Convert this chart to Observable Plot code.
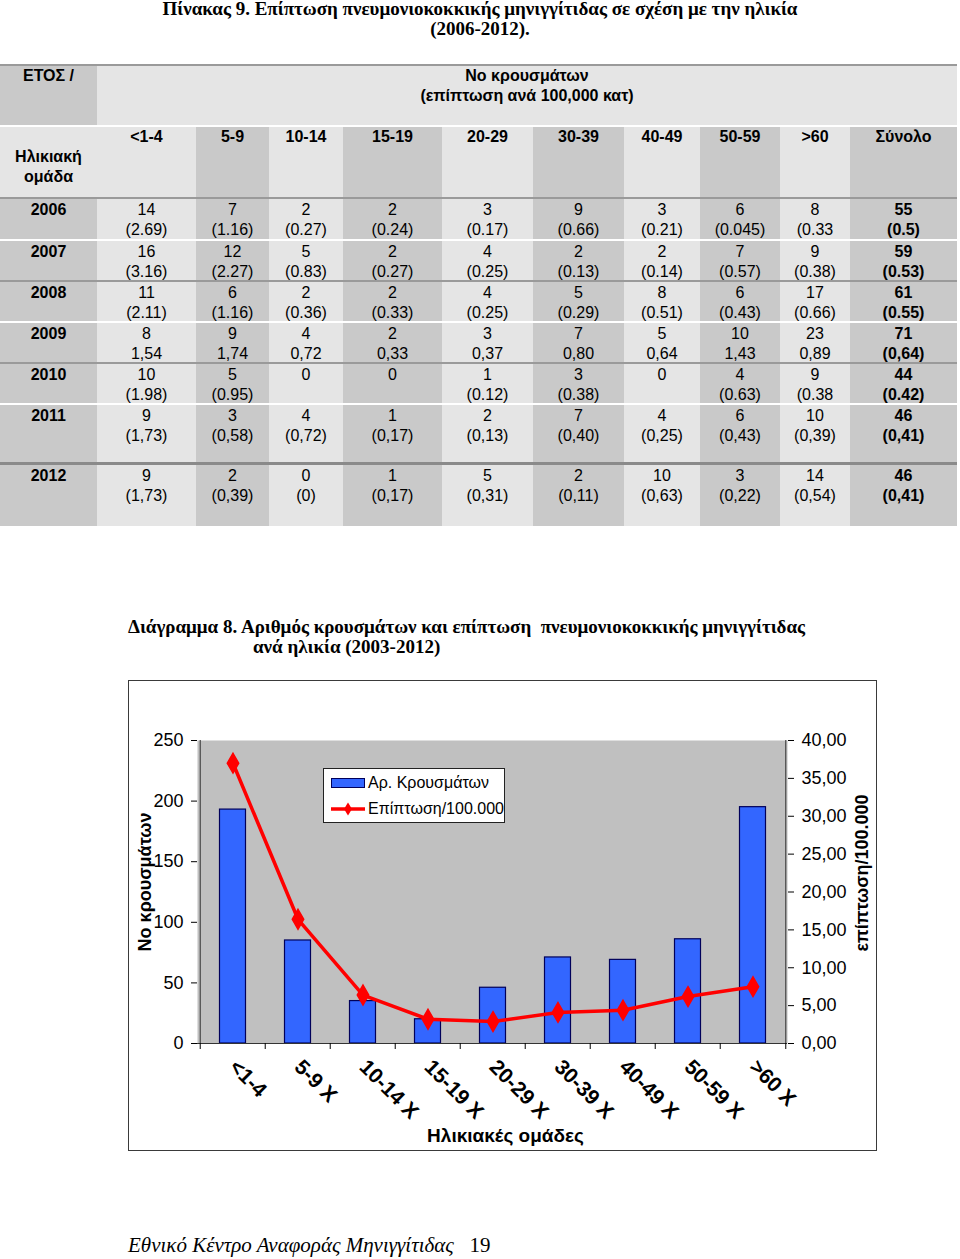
<!DOCTYPE html>
<html><head><meta charset="utf-8">
<script src="https://cdn.jsdelivr.net/npm/d3@7"></script>
<script src="https://cdn.jsdelivr.net/npm/@observablehq/plot@0.6"></script>
<style>
body{margin:0;background:#fff;width:960px;height:1259px;position:relative;overflow:hidden;font-family:Arial,"Liberation Sans",sans-serif;color:#000;}
.serif{font-family:"Times New Roman","Liberation Serif",serif;}
#title{position:absolute;left:0;width:960px;top:-1px;text-align:center;font-weight:bold;font-size:19px;line-height:20px;}
#tbl{position:absolute;left:0;top:64px;width:957px;}
.row{display:flex;width:957px;}
.cell{text-align:center;font-size:16px;line-height:20px;box-sizing:border-box;white-space:nowrap;}
.b{font-weight:bold;}
.cap{position:absolute;font-weight:bold;font-size:19px;line-height:20px;white-space:pre;}
#chart{position:absolute;left:128px;top:680px;width:747px;height:469px;border:1px solid #3a3a3a;}
#legend{position:absolute;left:194px;top:87px;width:182px;height:55px;box-sizing:border-box;border:1px solid #222;background:#fff;font-size:16px;}
.li{position:absolute;left:0;height:20px;line-height:20px;white-space:nowrap;}
.sw1{position:absolute;left:7px;top:5px;width:34px;height:10px;box-sizing:border-box;background:#3366ff;border:1.5px solid #00005a;}
#footer{position:absolute;left:128px;top:1233px;font-size:21px;line-height:24px;white-space:pre;}
</style></head>
<body>
<div id="title" class="serif">Πίνακας 9. Επίπτωση πνευμονιοκοκκικής μηνιγγίτιδας σε σχέση με την ηλικία<br>(2006-2012).</div>
<div id="tbl"></div>
<div class="cap serif" style="left:128px;top:617px;">Διάγραμμα 8. Αριθμός κρουσμάτων και επίπτωση  πνευμονιοκοκκικής μηνιγγίτιδας</div>
<div class="cap serif" style="left:253px;top:637px;">ανά ηλικία (2003-2012)</div>
<div id="chart">
  <div id="legend">
    <div class="li" style="top:4px;"><span class="sw1"></span><span style="position:absolute;left:44px;">Αρ. Κρουσμάτων</span></div>
    <div class="li" style="top:30px;"><svg width="40" height="20" style="position:absolute;left:6px;top:0"><line x1="1" x2="35" y1="10" y2="10" stroke="#ff0000" stroke-width="3.5"/><path d="M18,3.5L22,10L18,16.5L14,10Z" fill="#ff0000"/></svg><span style="position:absolute;left:44px;">Επίπτωση/100.000</span></div>
  </div>
</div>
<div id="footer" class="serif"><i>Εθνικό Κέντρο Αναφοράς Μηνιγγίτιδας</i>   19</div>
<script>
// ---- table data ----
const ageHeaders = ["<1-4","5-9","10-14","15-19","20-29","30-39","40-49","50-59",">60","Σύνολο"];
const years = ["2006","2007","2008","2009","2010","2011","2012"];
const cases2006 = ["14","7","2","2","3","9","3","6","8","55"];
const rates2006 = ["(2.69)","(1.16)","(0.27)","(0.24)","(0.17)","(0.66)","(0.21)","(0.045)","(0.33","(0.5)"];
const cases2007 = ["16","12","5","2","4","2","2","7","9","59"];
const rates2007 = ["(3.16)","(2.27)","(0.83)","(0.27)","(0.25)","(0.13)","(0.14)","(0.57)","(0.38)","(0.53)"];
const cases2008 = ["11","6","2","2","4","5","8","6","17","61"];
const rates2008 = ["(2.11)","(1.16)","(0.36)","(0.33)","(0.25)","(0.29)","(0.51)","(0.43)","(0.66)","(0.55)"];
const cases2009 = ["8","9","4","2","3","7","5","10","23","71"];
const rates2009 = ["1,54","1,74","0,72","0,33","0,37","0,80","0,64","1,43","0,89","(0,64)"];
const cases2010 = ["10","5","0","0","1","3","0","4","9","44"];
const rates2010 = ["(1.98)","(0.95)","","","(0.12)","(0.38)","","(0.63)","(0.38","(0.42)"];
const cases2011 = ["9","3","4","1","2","7","4","6","10","46"];
const rates2011 = ["(1,73)","(0,58)","(0,72)","(0,17)","(0,13)","(0,40)","(0,25)","(0,43)","(0,39)","(0,41)"];
const cases2012 = ["9","2","0","1","5","2","10","3","14","46"];
const rates2012 = ["(1,73)","(0,39)","(0)","(0,17)","(0,31)","(0,11)","(0,63)","(0,22)","(0,54)","(0,41)"];

// ---- chart data ----
const chartAges = ["<1-4","5-9 Χ","10-14 Χ","15-19 Χ","20-29 Χ","30-39 Χ","40-49 Χ","50-59 Χ",">60 Χ"];
const chartCases = [193, 85, 35, 20, 46, 71, 69, 86, 195];
const chartIncidence = [37.0, 16.4, 6.4, 3.2, 2.9, 4.1, 4.4, 6.2, 7.5];

// ---- build table ----
const colW = [97,99,73,74,99,91,91,76,80,70,107];
const LIGHT = "#e5e5e5", DARK = "#c9c9c9";
const tbl = document.getElementById("tbl");
function sep(h, color){ const d=document.createElement("div"); d.className="sep"; d.style.height=h+"px"; d.style.background=color; tbl.appendChild(d); }
function row(h, cells){
  const r=document.createElement("div"); r.className="row"; r.style.height=h+"px";
  cells.forEach(c=>{ const d=document.createElement("div"); d.className="cell"+(c.bold?" b":"");
    d.style.width=c.w+"px"; d.style.background=c.bg; d.style.paddingTop=(c.pt||0)+"px"; d.innerHTML=c.html; r.appendChild(d); });
  tbl.appendChild(r);
}
const esc = s => s.replace(/&/g,"&amp;").replace(/</g,"&lt;").replace(/>/g,"&gt;");
sep(2,"#9a9a9a");
row(59,[{w:colW[0],bg:DARK,bold:true,html:"ΕΤΟΣ /"},{w:d3.sum(colW.slice(1)),bg:LIGHT,bold:true,html:"Νο κρουσμάτων<br>(επίπτωση ανά 100,000 κατ)"}]);
sep(2,"#ffffff");
row(70,[{w:colW[0],bg:LIGHT,bold:true,pt:20,html:"Ηλικιακή<br>ομάδα"}].concat(ageHeaders.map((a,i)=>({w:colW[i+1],bg:i%2?DARK:LIGHT,bold:true,html:esc(a)}))));
sep(2,"#9a9a9a");
const allCases=[cases2006,cases2007,cases2008,cases2009,cases2010,cases2011,cases2012];
const allRates=[rates2006,rates2007,rates2008,rates2009,rates2010,rates2011,rates2012];
const rowH=[40,39,39,39,39,57,61];
const seps=[["#ffffff",2],["#9a9a9a",2],["#ffffff",2],["#9a9a9a",2],["#ffffff",2],["#8a8a8a",3]];
years.forEach((y,j)=>{
  row(rowH[j],[{w:colW[0],bg:DARK,bold:true,pt:1,html:y}].concat(allCases[j].map((c,i)=>({w:colW[i+1],bg:i%2?DARK:LIGHT,bold:i===9,pt:1,html:esc(c)+"<br>"+esc(allRates[j][i])}))));
  if(j<seps.length) sep(seps[j][1],seps[j][0]);
});

// ---- chart ----
const chartData = chartAges.map((a,i)=>({age:a,cases:chartCases[i],inc:chartIncidence[i]}));
const W=747,H=469,mL=68,mR=89,mT=59,mB=107;
const bw=(W-mL-mR)/chartAges.length;
const k=250/40;
const plot = Plot.plot({
  width:W,height:H,marginLeft:mL,marginRight:mR,marginTop:mT,marginBottom:mB,
  style:{fontFamily:'Arial,"Liberation Sans",sans-serif',fontSize:"18px",background:"#fff",color:"#000",overflow:"visible"},
  x:{domain:chartAges,padding:0},
  y:{domain:[0,250]},
  marks:[
    Plot.frame({fill:"#c0c0c0"}),
    Plot.barY(chartData,{x:"age",y:"cases",fill:"#3366ff",stroke:"#00005a",strokeWidth:1.2,insetLeft:19.5,insetRight:19.5}),
    Plot.ruleY([0],{stroke:"#333"}),
    Plot.ruleX([chartAges[0]],{dx:-bw/2,stroke:"#333"}),
    Plot.ruleX([chartAges[chartAges.length-1]],{dx:bw/2,stroke:"#333"}),
    Plot.line(chartData,{x:"age",y:d=>d.inc*k,stroke:"#ff0000",strokeWidth:3.5}),
    Plot.dot(chartData,{x:"age",y:d=>d.inc*k,symbol:"diamond",r:6,fill:"#ff0000",stroke:"#ff0000"}),
    Plot.axisY({anchor:"left",ticks:d3.range(0,251,50),tickSize:6,tickPadding:8,fontSize:18,label:null}),
    Plot.axisY({anchor:"right",ticks:d3.range(0,41,5).map(v=>v*k),tickFormat:d=>(d/k).toFixed(2).replace(".",","),tickSize:6,tickPadding:8,fontSize:18,label:null}),
    Plot.axisX({tickSize:6,tickFormat:()=>"",dx:-bw/2,label:null}),
    Plot.axisX([chartAges[chartAges.length-1]],{tickSize:6,tickFormat:()=>"",dx:bw/2,label:null}),
    Plot.axisX({tickSize:0,tickRotate:45,tickPadding:20,fontSize:21,fontWeight:"bold",label:null}),
    Plot.text(["Νο κρουσμάτων"],{frameAnchor:"left",textAnchor:"middle",dx:-52,dy:-10,rotate:-90,fontSize:18,fontWeight:"bold"}),
    Plot.text(["επίπτωση/100.000"],{frameAnchor:"right",textAnchor:"middle",dx:75,dy:-19,rotate:-90,fontSize:18,fontWeight:"bold"}),
    Plot.text(["Ηλικιακές ομάδες"],{frameAnchor:"bottom",dx:13,dy:98,fontSize:19,fontWeight:"bold"})
  ]
});
plot.style.position="absolute"; plot.style.left="0"; plot.style.top="0";
const chart=document.getElementById("chart");
chart.insertBefore(plot, chart.firstChild);
</script>
</body></html>
